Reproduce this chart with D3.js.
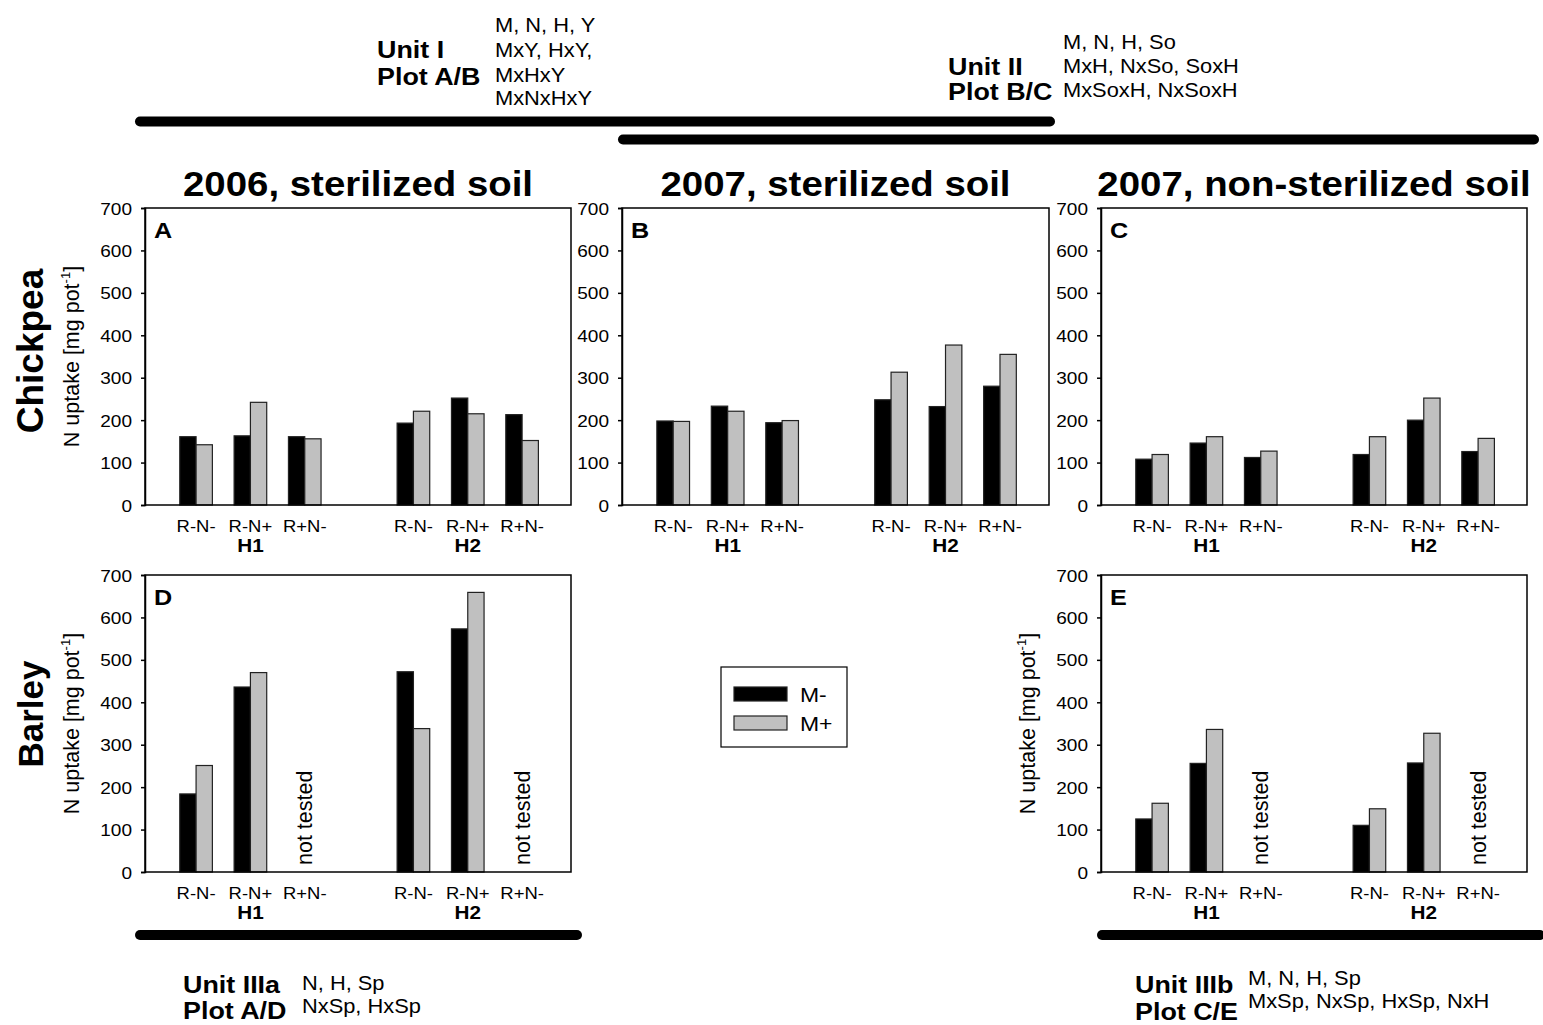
<!DOCTYPE html>
<html>
<head>
<meta charset="utf-8">
<script src="https://cdn.jsdelivr.net/npm/d3@7"></script>
<style>
  html, body { margin: 0; padding: 0; background: #fff; }
  svg { display: block; font-family: "Liberation Sans", Arial, Helvetica, sans-serif; }
</style>
</head>
<body>
<svg id="fig" width="1543" height="1025"></svg>
<script>
// ---- data: N uptake [mg pot-1], order R-N-, R-N+, R+N- (H1) then R-N-, R-N+, R+N- (H2)
const treatments = ["R-N-", "R-N+", "R+N-"];
const hosts = ["H1", "H2"];
const yTicks = [0, 100, 200, 300, 400, 500, 600, 700];
const seriesNames = ["M-", "M+"];

const chickpea2006Ster_Mminus = [161, 163, 161, 193, 252, 213];
const chickpea2006Ster_Mplus  = [142, 242, 156, 221, 215, 152];
const chickpea2007Ster_Mminus = [198, 233, 194, 248, 232, 280];
const chickpea2007Ster_Mplus  = [197, 221, 199, 313, 377, 355];
const chickpea2007Non_Mminus  = [108, 146, 112, 119, 200, 126];
const chickpea2007Non_Mplus   = [119, 161, 127, 161, 252, 157];
const barley2006Ster_Mminus   = [184, 436, null, 472, 573, null];
const barley2006Ster_Mplus    = [251, 470, null, 338, 659, null];
const barley2007Non_Mminus    = [125, 256, null, 110, 257, null];
const barley2007Non_Mplus     = [162, 336, null, 149, 327, null];

const columnTitles = ["2006, sterilized soil", "2007, sterilized soil", "2007, non-sterilized soil"];
const rowTitles = ["Chickpea", "Barley"];

// ---- layout
const SX = 1.12;                 // horizontal text stretch
const FONT_W = "bold";
const svg = d3.select("#fig");

function htext(g, x, y, str, size, weight, anchor) {
  return g.append("text")
    .attr("transform", `translate(${x},${y}) scale(${SX},1)`)
    .attr("font-size", size)
    .attr("font-weight", weight || "normal")
    .attr("text-anchor", anchor || "start")
    .attr("fill", "#000")
    .text(str);
}
function vtext(g, x, y, str, size, weight) {
  return g.append("text")
    .attr("transform", `translate(${x},${y}) rotate(-90)`)
    .attr("font-size", size)
    .attr("font-weight", weight || "normal")
    .attr("text-anchor", "middle")
    .attr("fill", "#000")
    .text(str);
}

const panels = [
  { id: "A", x0: 145, x1: 571, top: 208, zero: 505, m: chickpea2006Ster_Mminus, p: chickpea2006Ster_Mplus, ylab: true },
  { id: "B", x0: 622, x1: 1049, top: 208, zero: 505, m: chickpea2007Ster_Mminus, p: chickpea2007Ster_Mplus, ylab: false },
  { id: "C", x0: 1101, x1: 1527, top: 208, zero: 505, m: chickpea2007Non_Mminus, p: chickpea2007Non_Mplus, ylab: false },
  { id: "D", x0: 145, x1: 571, top: 575, zero: 872, m: barley2006Ster_Mminus, p: barley2006Ster_Mplus, ylab: true },
  { id: "E", x0: 1101, x1: 1527, top: 575, zero: 872, m: barley2007Non_Mminus, p: barley2007Non_Mplus, ylab: true }
];

// slot index on the category axis for each bar pair (slot 4 is the gap between hosts)
const slots = [1, 2, 3, 5, 6, 7];
const barW = 0.3;

panels.forEach(P => {
  const g = svg.append("g");
  const x = d3.scaleLinear().domain([0.06, 7.9]).range([P.x0, P.x1]);
  const y = d3.scaleLinear().domain([0, 700]).range([P.zero, P.top]);

  // bars
  const rows = slots.map((s, i) => ({ s, m: P.m[i], p: P.p[i], i }));
  rows.forEach(r => {
    if (r.m == null) {
      g.append("text")
        .attr("transform", `translate(${x(r.s) + 7.5},${P.zero - 7}) rotate(-90)`)
        .attr("font-size", 21.5)
        .attr("text-anchor", "start")
        .text("not tested");
      return;
    }
    g.append("rect")
      .attr("x", x(r.s - barW)).attr("width", x(r.s) - x(r.s - barW))
      .attr("y", y(r.m)).attr("height", y(0) - y(r.m))
      .attr("fill", "#000").attr("stroke", "#222").attr("stroke-width", 1.2);
    g.append("rect")
      .attr("x", x(r.s)).attr("width", x(r.s + barW) - x(r.s))
      .attr("y", y(r.p)).attr("height", y(0) - y(r.p))
      .attr("fill", "#c0c0c0").attr("stroke", "#222").attr("stroke-width", 1.2);
  });

  // frame
  g.append("rect")
    .attr("x", P.x0).attr("y", P.top)
    .attr("width", P.x1 - P.x0).attr("height", P.zero - P.top)
    .attr("fill", "none").attr("stroke", "#000").attr("stroke-width", 1.5);

  // y axis
  const ax = g.append("g").attr("transform", `translate(${P.x0},0)`)
    .call(d3.axisLeft(y).tickValues(yTicks).tickSize(4).tickFormat(d3.format("d")));
  ax.select(".domain").attr("stroke", "#000").attr("stroke-width", 1.5);
  ax.selectAll(".tick line").attr("stroke", "#000").attr("stroke-width", 1.5);
  ax.selectAll(".tick text")
    .attr("x", null)
    .attr("transform", `translate(-13,0) scale(${SX},1)`)
    .attr("dy", "0.36em")
    .attr("font-size", 17)
    .attr("font-family", null)
    .attr("fill", "#000");

  // category labels
  slots.forEach((s, i) => {
    htext(g, x(s), P.zero + 27, treatments[i % 3], 16.5, "normal", "middle");
  });
  hosts.forEach((h, k) => {
    htext(g, x(k === 0 ? 2 : 6), P.zero + 47, h, 18.5, FONT_W, "middle");
  });

  // panel letter
  htext(g, P.x0 + 9, P.top + 30, P.id, 22.5, FONT_W, "start");

  // y axis title
  if (P.ylab) {
    const t = vtext(g, P.x0 - 66, (P.top + P.zero) / 2, "", 21.5, "normal");
    t.append("tspan").text("N uptake [mg pot");
    t.append("tspan").attr("font-size", 13).attr("dy", -9).text("-1");
    t.append("tspan").attr("dy", 9).text("]");
  }
});

// column titles
const titleCenters = [358, 835.5, 1314];
columnTitles.forEach((t, i) => htext(svg, titleCenters[i], 196, t, 34.3, FONT_W, "middle"));

// row titles
vtext(svg, 43, 351, rowTitles[0], 37, FONT_W);
vtext(svg, 43, 714, rowTitles[1], 35, FONT_W);

// legend
const lg = svg.append("g");
lg.append("rect").attr("x", 721).attr("y", 667).attr("width", 126).attr("height", 80)
  .attr("fill", "#fff").attr("stroke", "#000").attr("stroke-width", 1.2);
const legendFills = ["#000", "#c0c0c0"];
seriesNames.forEach((name, i) => {
  lg.append("rect").attr("x", 734).attr("y", 687 + i * 29).attr("width", 53).attr("height", 14)
    .attr("fill", legendFills[i]).attr("stroke", "#222").attr("stroke-width", 1.2);
  htext(lg, 800, 702 + i * 29, name, 20.5, "normal", "start");
});

// analysis units: thick bars and their factor lists
const unitBars = [
  { x1: 140, x2: 1050, y: 121.5 },
  { x1: 623, x2: 1534, y: 139.5 },
  { x1: 140, x2: 577, y: 935 },
  { x1: 1102, x2: 1540, y: 935 }
];
unitBars.forEach(b => {
  svg.append("line").attr("x1", b.x1).attr("x2", b.x2).attr("y1", b.y).attr("y2", b.y)
    .attr("stroke", "#000").attr("stroke-width", 10).attr("stroke-linecap", "round");
});

const units = [
  { name: ["Unit I", "Plot A/B"], nx: 377, ny: [58, 85],
    terms: ["M, N, H, Y", "MxY, HxY,", "MxHxY", "MxNxHxY"], tx: 495, ty: [31.5, 56.5, 81.5, 105] },
  { name: ["Unit II", "Plot B/C"], nx: 948, ny: [75, 100],
    terms: ["M, N, H, So", "MxH, NxSo, SoxH", "MxSoxH, NxSoxH"], tx: 1063, ty: [49, 73, 97] },
  { name: ["Unit IIIa", "Plot A/D"], nx: 183, ny: [993, 1019],
    terms: ["N, H, Sp", "NxSp, HxSp"], tx: 302, ty: [990, 1013] },
  { name: ["Unit IIIb", "Plot C/E"], nx: 1135, ny: [993, 1020],
    terms: ["M, N, H, Sp", "MxSp, NxSp, HxSp, NxH"], tx: 1248, ty: [985, 1008] }
];
units.forEach(u => {
  u.name.forEach((s, i) => htext(svg, u.nx, u.ny[i], s, 24, FONT_W, "start"));
  u.terms.forEach((s, i) => htext(svg, u.tx, u.ty[i], s, 19.5, "normal", "start"));
});
</script>
</body>
</html>
